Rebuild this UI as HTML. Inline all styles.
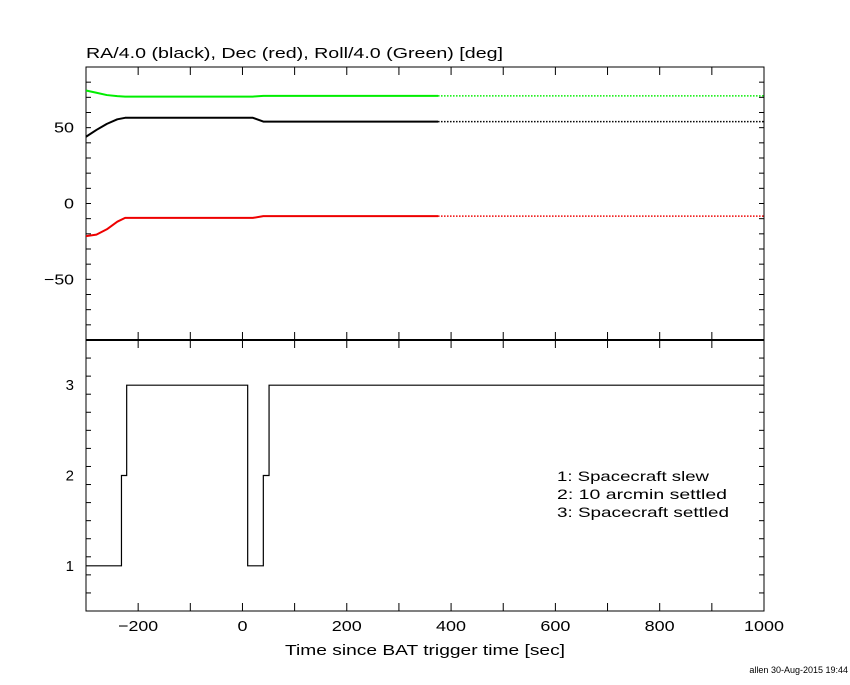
<!DOCTYPE html>
<html><head><meta charset="utf-8"><style>
body{margin:0;background:#fff}
svg text{font-family:"Liberation Sans","DejaVu Sans",sans-serif;fill:#000}
</style></head><body>
<svg id="c" width="850" height="680" xmlns="http://www.w3.org/2000/svg">
<text x="86" y="58" font-size="15" textLength="417" lengthAdjust="spacingAndGlyphs">RA/4.0 (black), Dec (red), Roll/4.0 (Green) [deg]</text>
<text x="285" y="655" font-size="15" textLength="280" lengthAdjust="spacingAndGlyphs">Time since BAT trigger time [sec]</text>
<text x="848" y="673" font-size="9" text-anchor="end">allen 30-Aug-2015 19:44</text>
<g id="g"></g>
<text x="557" y="481" font-size="14" textLength="152" lengthAdjust="spacingAndGlyphs">1: Spacecraft slew</text>
<text x="557" y="499" font-size="14" textLength="170" lengthAdjust="spacingAndGlyphs">2: 10 arcmin settled</text>
<text x="557" y="517" font-size="14" textLength="172" lengthAdjust="spacingAndGlyphs">3: Spacecraft settled</text>
</svg>
<script>
const timesAtt=[-300,-280,-260,-240,-225,20,40,375];
const raVals=[44,48.5,52.5,55.5,56.5,56.5,54,54];
const decVals=[-21.5,-20.5,-17,-12,-9.5,-9.5,-8.3,-8.3];
const rollVals=[74.5,73,71.5,70.8,70.5,70.5,71,71];
const stateTimes=[-300,-232,-222,10,40,51,1000];
const stateVals=[1,2,3,1,2,3,3];
const xTicks=[-200,0,200,400,600,800,1000];
const topYTicks=[-50,0,50];
const botYTicks=[1,2,3];

const L=86,R=764,T=67,M=340,B=611;
const X=v=>L+(v+300)/1300*(R-L);
const YT=v=>M-(v+90)/180*(M-T);
const YB=v=>B-(v-0.5)/3*(B-M);
const g=document.getElementById('g');
const NS='http://www.w3.org/2000/svg';
function el(t,a,name){const e=document.createElementNS(NS,t);for(const k in a)e.setAttribute(k,a[k]);


g.appendChild(e);return e;}
el('rect',{x:L,y:T,width:R-L,height:B-T,fill:'none',stroke:'#000','stroke-width':1},'plot-frame');
el('line',{x1:L,x2:R,y1:M,y2:M,stroke:'#000','stroke-width':2},'panel-divider');
for(let v=-300;v<=1000;v+=100){const x=X(v);
for(const [y0,d] of [[T,1],[M,-1],[M,1],[B,-1]]) el('line',{x1:x,x2:x,y1:y0,y2:y0+d*8,stroke:'#000'},'x-tick');}
xTicks.forEach(v=>{const s=(v<0?'\u2212':'')+Math.abs(v);const t=el('text',{x:X(v),y:B+20,'font-size':15,'text-anchor':'middle',textLength:s.length*10,lengthAdjust:'spacingAndGlyphs'},'x-tick-label');t.textContent=s;});
for(let v=-90;v<=90;v+=10){const y=YT(v);el('line',{x1:L,x2:L+5,y1:y,y2:y,stroke:'#000'},'top-y-tick');el('line',{x1:R,x2:R-5,y1:y,y2:y,stroke:'#000'},'top-y-tick');}
topYTicks.forEach(v=>{const s=(v<0?'\u2212':'')+Math.abs(v);const t=el('text',{x:L-12,y:YT(v)+5,'font-size':15,'text-anchor':'end',textLength:s.length*10,lengthAdjust:'spacingAndGlyphs'},'top-y-tick-label');t.textContent=s;});
for(let i=0;i<=15;i++){const v=0.5+i*0.2;if(v>3.5)break;const y=YB(v);el('line',{x1:L,x2:L+5,y1:y,y2:y,stroke:'#000'},'bottom-y-tick');el('line',{x1:R,x2:R-5,y1:y,y2:y,stroke:'#000'},'bottom-y-tick');}
botYTicks.forEach(v=>{const t=el('text',{x:L-12,y:YB(v)+5,'font-size':15,'text-anchor':'end'},'bottom-y-tick-label');t.textContent=v;});
function series(vals,color,name){
 const pts=timesAtt.map((t,i)=>X(t)+','+YT(vals[i])).join(' ');
 el('polyline',{points:pts,fill:'none',stroke:color,'stroke-width':2,'stroke-linejoin':'round'},name+'-line');
 const last=vals[vals.length-1];
 el('line',{x1:X(timesAtt[timesAtt.length-1]),x2:X(1000),y1:YT(last),y2:YT(last),stroke:color,'stroke-width':1.5,'stroke-dasharray':'1.5,1.5'},name+'-dotted');
}
series(rollVals,'#00ee00','roll');
series(raVals,'#000','ra');
series(decVals,'#ee0000','dec');
let d='';stateTimes.forEach((t,i)=>{const x=X(t),y=YB(stateVals[i]);
 if(i==0)d+='M'+x+','+y;else d+='H'+x+'V'+y;});
el('path',{d:d,fill:'none',stroke:'#000','stroke-width':1.2},'state-step-line');
</script>
</body></html>
